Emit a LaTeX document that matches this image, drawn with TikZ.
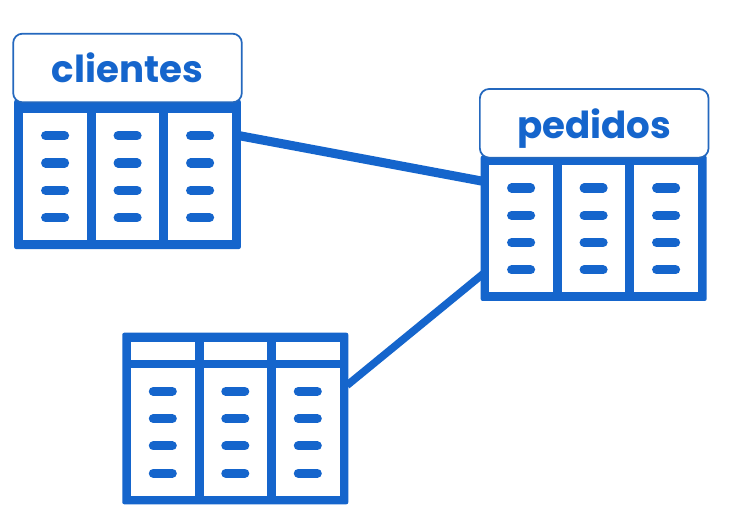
\documentclass[tikz,border=0pt]{standalone}
\usepackage{fontspec}
\setmainfont{Poppins}
\definecolor{tblue}{HTML}{1565CC}
\definecolor{hedge}{HTML}{2468BE}
\tikzset{
  x=0.75pt,y=-0.75pt,
  body/.style={fill=tblue,rounded corners=1.5pt,inner sep=0pt,outer sep=0pt,draw=none},
  cell/.style={fill=white,draw=none},
  dashline/.style={draw=tblue,line width=6.8pt,line cap=round},
  header/.style={fill=white,draw=hedge,line width=1.3pt,rounded corners=7pt,inner sep=0pt,outer sep=0pt,text=tblue,text depth=0pt,font=\bfseries\fontsize{27.9}{28}\selectfont},
  link/.style={draw=tblue,line cap=butt},
}
% #1 = left of cells x, #2 = cell top y, #3 = cell bottom y, #4 = first dash y
\newcommand{\tblcells}[4]{%
  \foreach \i in {0,1,2}{
    \fill[cell] ({#1+72.5*\i},#2) rectangle ({#1+72.5*\i+63.6},#3);
    \foreach \j in {0,1,2,3}{
      \draw[dashline] ({#1+72.5*\i+31.8-9.5},{#4+27.3*\j}) -- ({#1+72.5*\i+31.8+9.5},{#4+27.3*\j});
    }
  }%
}
\begin{document}
\begin{tikzpicture}
\useasboundingbox (0,0) rectangle (729,525);
\fill[white] (0,0) rectangle (729,525);
% bodies
\node[body,minimum width=170pt,minimum height=112pt] (clientes) at (127.5,174.4) {};
\node[body,minimum width=169.5pt,minimum height=128.7pt] (otra) at (235.3,418.5) {};
\node[body,minimum width=169.5pt,minimum height=109pt] (pedidos) at (593.7,228.3) {};
% connectors
\draw[link,line width=6.8pt] ([yshift=-27pt,xshift=-1pt]clientes.north east) -- ([yshift=-19.3pt,xshift=2pt]pedidos.north west);
\draw[link,line width=5.7pt] ([yshift=-39.5pt,xshift=-1pt]otra.north east) -- ([yshift=-88.5pt,xshift=2pt]pedidos.north west);
% cells
\tblcells{23.3}{112.7}{240}{135.7}
\tblcells{131}{368.3}{495.7}{391.3}
\tblcells{489.3}{165}{292.3}{188}
\foreach \i in {0,1,2}{
  \fill[cell] ({131+72.5*\i},341.7) rectangle ({131+72.5*\i+63.6},359.7);
}
% headers
\node[header,minimum width=171.5pt,minimum height=51.5pt] (hc) at (127.5,68) {clientes};
\node[header,minimum width=171.5pt,minimum height=51.5pt] (hp) at (594.2,123.3) {pedidos};
\end{tikzpicture}
\end{document}
